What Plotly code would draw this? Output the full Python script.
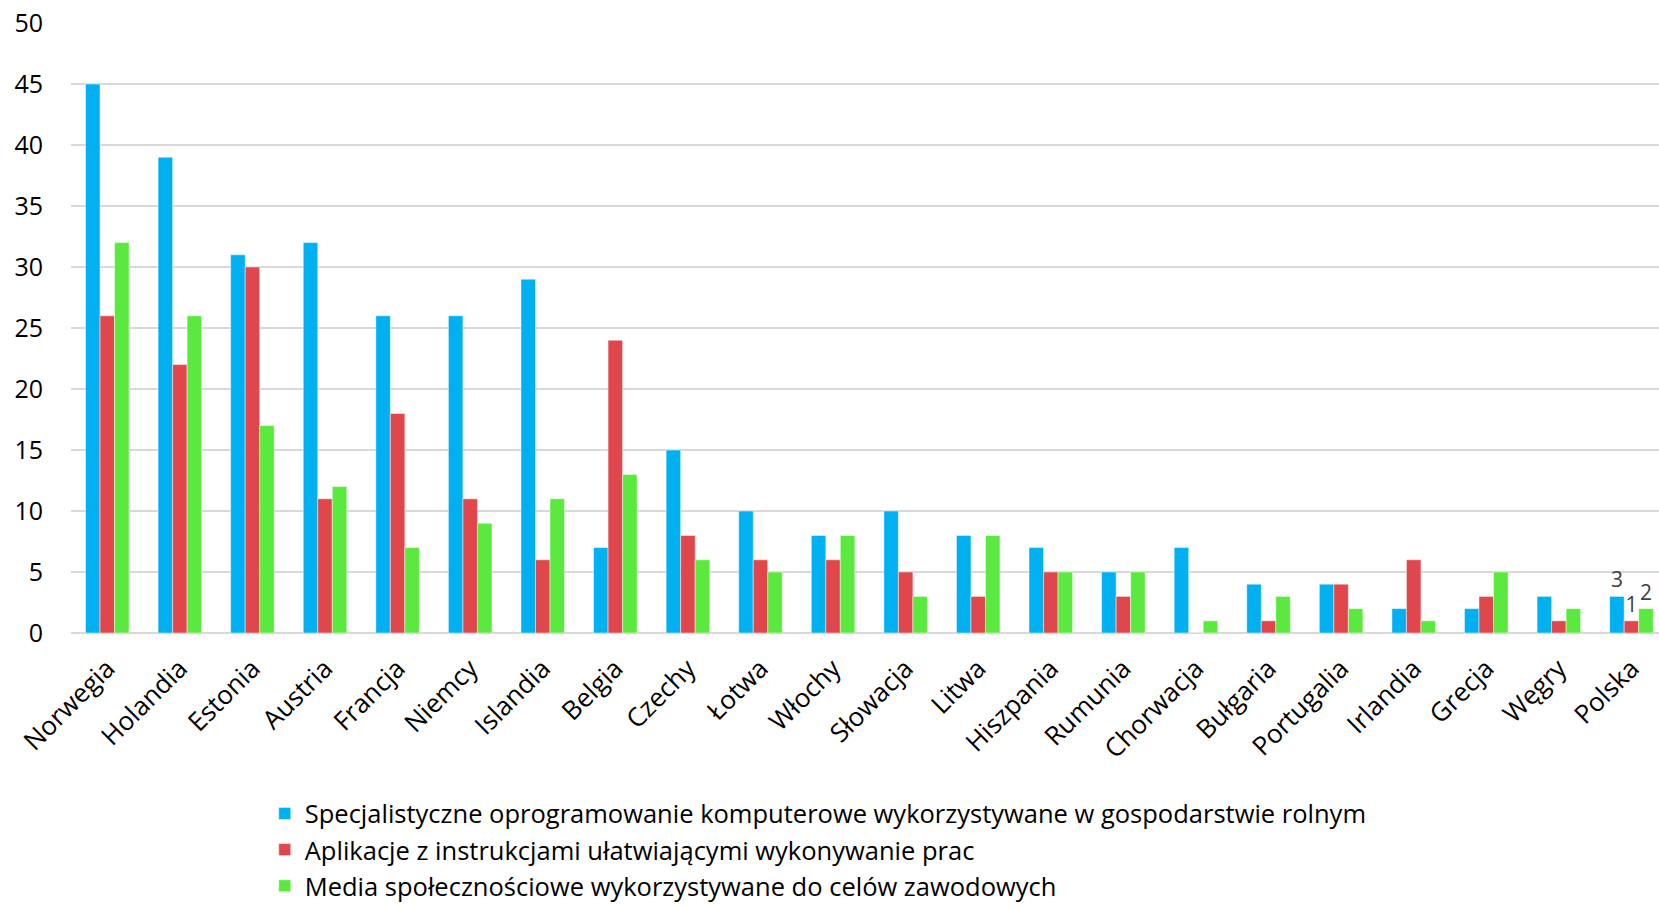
import plotly.graph_objects as go

countries = ["Norwegia", "Holandia", "Estonia", "Austria", "Francja", "Niemcy",
             "Islandia", "Belgia", "Czechy", "Łotwa", "Włochy", "Słowacja",
             "Litwa", "Hiszpania", "Rumunia", "Chorwacja", "Bułgaria",
             "Portugalia", "Irlandia", "Grecja", "Węgry", "Polska"]

software = [45, 39, 31, 32, 26, 26, 29, 7, 15, 10, 8, 10, 8, 7, 5, 7, 4, 4, 2, 2, 3, 3]
apps = [26, 22, 30, 11, 18, 11, 6, 24, 8, 6, 6, 5, 3, 5, 3, 0, 1, 4, 6, 3, 1, 1]
social = [32, 26, 17, 12, 7, 9, 11, 13, 6, 5, 8, 3, 8, 5, 5, 1, 3, 2, 1, 5, 2, 2]

series_names = [
    "Specjalistyczne oprogramowanie komputerowe wykorzystywane w gospodarstwie rolnym",
    "Aplikacje z instrukcjami ułatwiającymi wykonywanie prac",
    "Media społecznościowe wykorzystywane do celów zawodowych",
]
series_values = [software, apps, social]
colors = ["#00B0F0", "#E0474C", "#5CE93F"]

FONT = "Open Sans"

fig = go.Figure()
for name, vals, col in zip(series_names, series_values, colors):
    # only Polska carries value labels
    labels = ["" for _ in vals]
    labels[-1] = str(vals[-1])
    fig.add_trace(go.Bar(
        x=countries, y=vals, name=name,
        marker=dict(color=col, line=dict(color="rgba(255,255,255,0.6)", width=0.8)),
        text=labels, textposition="outside", cliponaxis=False,
        textfont=dict(family=FONT, size=21, color="#404040"),
    ))

fig.update_layout(
    width=1659, height=907,
    margin=dict(l=71, r=0, t=23, b=274, autoexpand=False),
    paper_bgcolor="white", plot_bgcolor="white",
    barmode="group", bargap=0.4, bargroupgap=0,
    font=dict(family=FONT, color="black"),
    showlegend=True,
    legend=dict(
        orientation="v", x=0.122, xanchor="left", y=-0.258, yanchor="top",
        font=dict(family=FONT, size=25.5, color="black"),
        tracegroupgap=0, itemwidth=30,
    ),
)
fig.update_yaxes(
    range=[0, 50], dtick=5, showgrid=True, gridcolor="#D9D9D9", gridwidth=2,
    zeroline=True, zerolinecolor="#D9D9D9", zerolinewidth=2,
    showline=False, ticks="", ticklabelstandoff=27, automargin=False,
    tickfont=dict(family=FONT, size=25, color="black"),
)
fig.update_xaxes(
    range=[-0.5, 21.38], automargin=False,
    tickangle=-45, showline=False, ticks="", showgrid=False,
    ticklabelstandoff=14,
    tickfont=dict(family=FONT, size=26, color="black"),
)

fig.write_html("out.html")
